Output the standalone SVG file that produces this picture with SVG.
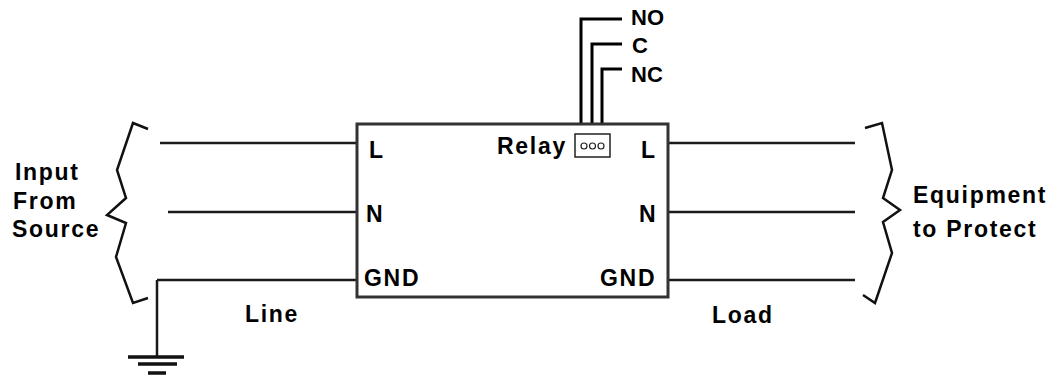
<svg xmlns="http://www.w3.org/2000/svg" width="1057" height="379" viewBox="0 0 1057 379">
<style>
.w{stroke:#1a1a1a;stroke-width:2.5;fill:none}
.k{stroke:#000;stroke-width:3;fill:none}
.br{stroke:#111;stroke-width:2.5;fill:none;stroke-linejoin:miter}
.t{font-family:"Liberation Sans",Arial,sans-serif;font-weight:bold;font-size:23px;fill:#000}
.ts{letter-spacing:1.7px}
.tr{font-family:"Liberation Sans",Arial,sans-serif;font-weight:bold;font-size:22px;fill:#000}
</style>
<rect width="1057" height="379" fill="#fff"/>
<g id="connectors">
<path class="w" d="M160 143H357M168 212H357M157 280H357M157 280V357"/>
<path class="w" d="M668 143H855M668 212H855M668 280H855"/>
<path class="k" d="M581 134V19H622M592 134V44H622M602 134V69H622"/>
</g>
<g id="ground">
<path stroke="#111" stroke-width="3.5" d="M128 357H184M138 364H177M148 373H166"/>
</g>
<g id="brace-left">
<path class="br" d="M148 129L133 123L117 170L126 198L107 215L126 223L116 257L133 303L148 298"/>
</g>
<g id="brace-right">
<path class="br" d="M865 128L882 123L892 170L883 198L900 210L883 222L892 253L875 303L863 295"/>
</g>
<g id="device">
<rect x="357" y="124" width="311" height="173" fill="#fff" stroke="#333" stroke-width="3"/>
<text class="t" x="369" y="158">L</text>
<text class="t" x="366" y="222">N</text>
<text class="t ts" x="364" y="286">GND</text>
<text class="t" x="641" y="158">L</text>
<text class="t" x="639" y="222">N</text>
<text class="t ts" x="600" y="286">GND</text>
<text class="t ts" x="497" y="154">Relay</text>
</g>
<g id="relay-connector">
<rect x="575" y="134" width="35" height="23" fill="#fff" stroke="#222" stroke-width="1.5"/>
<circle cx="584" cy="146" r="3" fill="none" stroke="#222" stroke-width="1.2"/>
<circle cx="592.5" cy="146" r="3" fill="none" stroke="#222" stroke-width="1.2"/>
<circle cx="601" cy="146" r="3" fill="none" stroke="#222" stroke-width="1.2"/>
</g>
<g id="relay-labels">
<text class="tr" x="631" y="25">NO</text>
<text class="tr" x="632" y="53" font-weight="normal">C</text>
<text class="tr" x="631" y="82">NC</text>
</g>
<g id="input-label">
<text class="t ts" x="15" y="180">Input</text>
<text class="t ts" x="13" y="209">From</text>
<text class="t ts" x="12" y="237">Source</text>
</g>
<g id="equipment-label">
<text class="t ts" x="913" y="203">Equipment</text>
<text class="t ts" x="913" y="237">to Protect</text>
</g>
<g id="line-label"><text class="t ts" x="245" y="322">Line</text></g>
<g id="load-label"><text class="t ts" x="712" y="323">Load</text></g>
</svg>
